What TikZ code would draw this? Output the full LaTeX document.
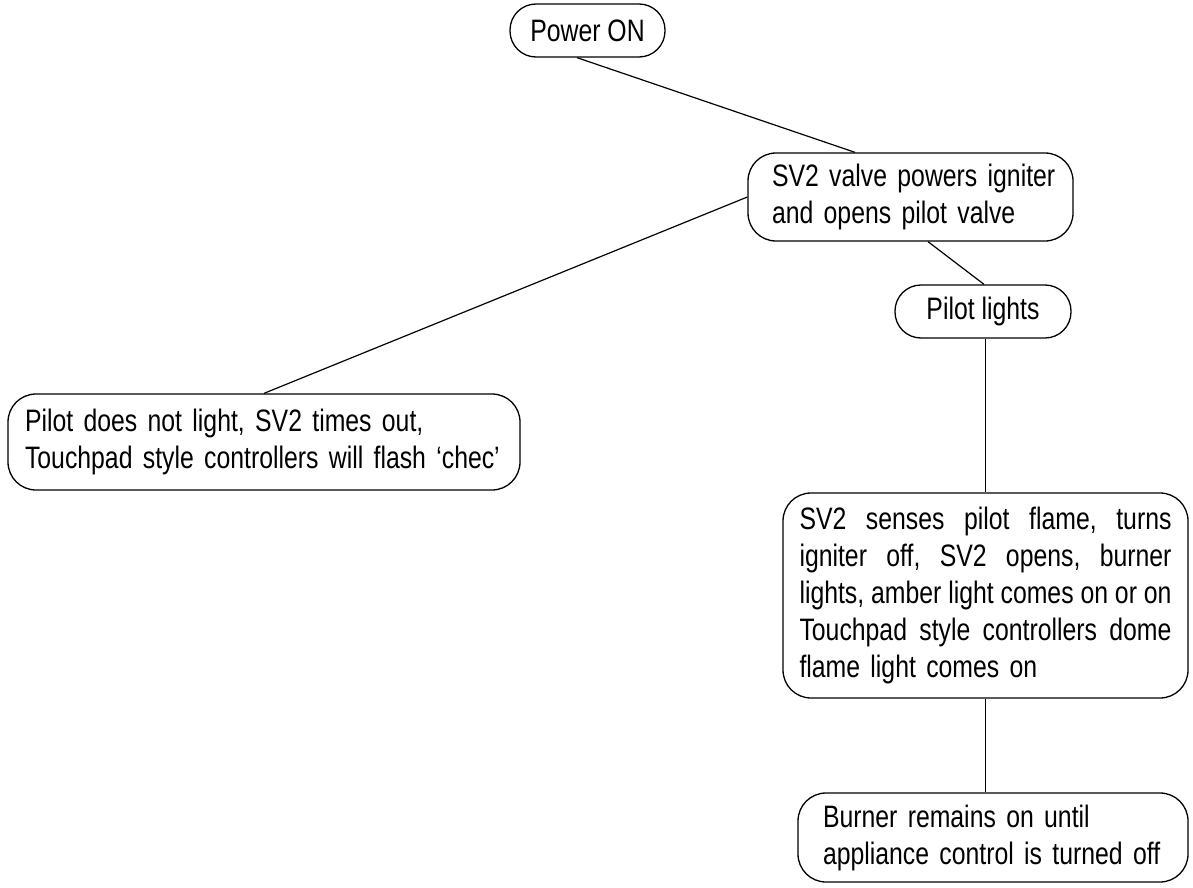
\documentclass[tikz,border=0pt]{standalone}
\usepackage{fontspec}
\setmainfont{Liberation Sans}[FakeStretch=0.80]
\begin{document}
\begin{tikzpicture}[x=1pt,y=-1pt,
  box/.style={draw,line width=1.3pt,rounded corners=28pt,inner xsep=0pt,inner ysep=0pt,
    font=\fontsize{31}{37}\selectfont\frenchspacing},
  pill/.style={box,rounded corners=26pt},
  conn/.style={line width=1.2pt}]
\useasboundingbox (0,0) rectangle (1193,888);
\node[pill,minimum width=155pt,minimum height=53pt] (pw) at (587.5,30.5) {Power ON};
\node[box,minimum width=325pt,minimum height=88pt,text width=277pt,align=left] (sv) at (910.5,197)
  {\mbox{SV2 valve powers igniter}\\\mbox{and opens pilot valve}};
\node[pill,minimum width=176pt,minimum height=53pt] (pl) at (983,311.5) {Pilot lights};
\node[box,minimum width=512pt,minimum height=96pt,text width=478pt,align=left] (pd) at (264,442)
  {\mbox{Pilot does not light, SV2 times out,}\\\mbox{Touchpad style controllers will flash ‘chec’}};
\node[box,minimum width=405pt,minimum height=205pt,text width=372pt,align=left] (ss) at (985.5,595.5)
  {\makebox[372pt][s]{\spaceskip=3pt plus 40pt minus 1pt SV2 senses pilot flame, turns}\\
   \makebox[372pt][s]{\spaceskip=3pt plus 40pt minus 1pt igniter off, SV2 opens, burner}\\
   \makebox[372pt][s]{\spaceskip=3pt plus 40pt minus 1pt lights, amber light comes on or on}\\
   \makebox[372pt][s]{\spaceskip=3pt plus 40pt minus 1pt Touchpad style controllers dome}\\
   \mbox{flame light comes on}};
\node[box,minimum width=390pt,minimum height=89pt,text width=340pt,align=left] (bu) at (993,837.5)
  {\mbox{Burner remains on until}\\\mbox{appliance control is turned off}};
\draw[conn] ([xshift=-10.5pt]pw.south) -- ([xshift=-55.5pt]sv.north);
\draw[conn] (sv.west) -- (pd.north);
\draw[conn] ([xshift=17.5pt]sv.south) -- ([xshift=1pt]pl.north);
\draw[conn] (ss.north |- pl.south) -- (ss.north);
\draw[conn] (ss.south) -- (ss.south |- bu.north);
\end{tikzpicture}
\end{document}
